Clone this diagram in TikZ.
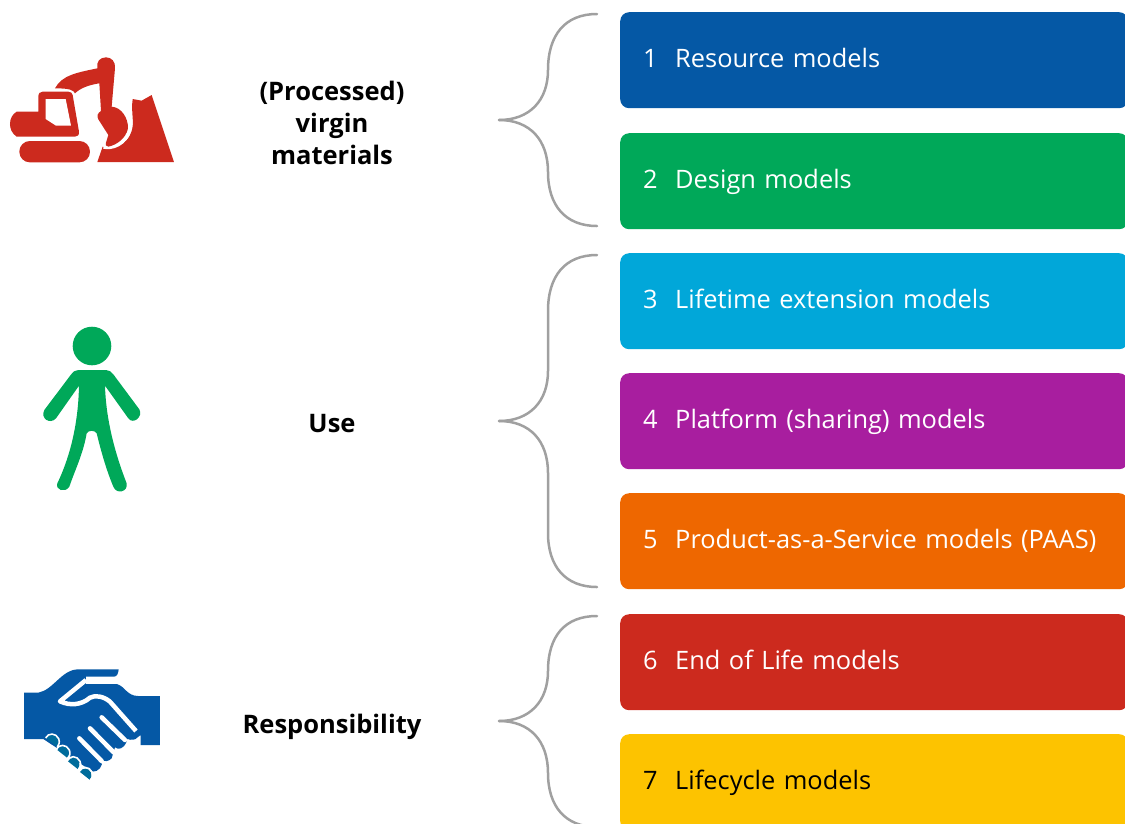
\documentclass[tikz,border=0pt]{standalone}
\usepackage{fontspec}
\setmainfont{Open Sans}
\definecolor{cblue}{HTML}{0558A5}
\definecolor{cgreen}{HTML}{00A859}
\definecolor{ccyan}{HTML}{01A7D9}
\definecolor{cpurple}{HTML}{A81E9F}
\definecolor{corange}{HTML}{EE6700}
\definecolor{cred}{HTML}{CC2A1E}
\definecolor{cyellow}{HTML}{FDC300}
\definecolor{cteal}{HTML}{006C9B}
\definecolor{cbrace}{HTML}{A0A0A0}
\newcommand{\modeltext}[2]{\makebox[32pt][l]{#1}#2}
\tikzset{
  modelbox/.style={rectangle,rounded corners=9pt,minimum width=508pt,minimum height=96pt,anchor=north west,text=white,inner xsep=23pt,inner ysep=0pt,text width=462pt,text height=20pt,text depth=6pt,align=left,font=\fontsize{25.4}{30}\selectfont},
  grouplabel/.style={align=center,font=\fontsize{25.5}{32}\selectfont\bfseries},
  bracket/.style={draw=cbrace,line width=2.5pt,line cap=round}
}
\begin{document}
\begin{tikzpicture}[x=1pt,y=-1pt]
\useasboundingbox (0,0) rectangle (1125,823);
\clip (0,0) rectangle (1125,823);
\node[modelbox,fill=cblue] (m1) at (620,12) {\modeltext{1}{Resource models}};
\node[modelbox,fill=cgreen] (m2) at (620,133) {\modeltext{2}{Design models}};
\node[modelbox,fill=ccyan] (m3) at (620,253) {\modeltext{3}{Lifetime extension models}};
\node[modelbox,fill=cpurple] (m4) at (620,373) {\modeltext{4}{Platform (sharing) models}};
\node[modelbox,fill=corange] (m5) at (620,493) {\modeltext{5}{Product-as-a-Service models (PAAS)}};
\node[modelbox,fill=cred] (m6) at (620,614) {\modeltext{6}{End of Life models}};
\node[modelbox,fill=cyellow,text=black] (m7) at (620,734) {\modeltext{7}{Lifecycle models}};
\node[grouplabel] (g1) at (332,123) {(Processed)\\virgin\\materials};
\node[grouplabel] (g2) at (332,424) {Use};
\node[grouplabel] (g3) at (332,727) {Responsibility};
% braces
\coordinate (b1t) at (499,120); \coordinate (b1a) at (597,14); \coordinate (b1b) at (597,226);
\coordinate (b2t) at (499,421); \coordinate (b2a) at (597,255); \coordinate (b2b) at (597,587);
\coordinate (b3t) at (499,721); \coordinate (b3a) at (597,616); \coordinate (b3b) at (597,827);
\draw[bracket] (b1t) .. controls (530,120) and (548,100) .. (548,70) .. controls (548,35) and (565,14) .. (b1a);
\draw[bracket] (b1t) .. controls (530,120) and (548,140) .. (548,172) .. controls (548,205) and (565,226) .. (b1b);
\draw[bracket] (b2t) .. controls (530,421) and (548,401) .. (548,371) .. controls (548,350) and (548,330) .. (548,311) .. controls (548,276) and (565,255) .. (b2a);
\draw[bracket] (b2t) .. controls (530,421) and (548,441) .. (548,473) .. controls (548,495) and (548,515) .. (548,533) .. controls (548,566) and (565,587) .. (b2b);
\draw[bracket] (b3t) .. controls (530,721) and (548,701) .. (548,671) .. controls (548,636) and (565,616) .. (b3a);
\draw[bracket] (b3t) .. controls (530,721) and (548,741) .. (548,773) .. controls (548,806) and (565,827) .. (b3b);
% excavator
\begin{scope}[shift={(0,40)},x=0.33333pt,y=-0.33333pt]
\fill[cred] (50,215) -- (115,215) -- (115,170) .. controls (115,160) and (120,155) .. (128,155) -- (205,155) .. controls (213,155) and (217,160) .. (218,165) -- (237,275) .. controls (238,285) and (233,290) .. (225,290) -- (50,290) .. controls (35,280) and (30,265) .. (30,252) .. controls (30,235) and (38,222) .. (50,215) -- cycle;
\fill[white] (137,177) -- (197,177) -- (213,257) -- (168,257) -- (137,237) -- cycle;
\fill[cred,rounded corners=10.5pt] (58,303) rectangle (270,367);
\fill[cred] (292,366) -- (308,320) .. controls (330,332) and (385,320) .. (397,265) .. controls (402,240) and (393,215) .. (398,177) -- (425,182) -- (455,165) -- (522,366) -- cycle;
\draw[white,line width=2pt] (310,323) .. controls (335,330) and (382,315) .. (392,265);
\fill[cred] (165,145) .. controls (185,105) and (235,97) .. (292,85) .. controls (288,65) and (300,52) .. (318,52) .. controls (335,52) and (347,65) .. (345,85) -- (335,200) .. controls (365,202) and (385,235) .. (384,265) .. controls (378,295) and (350,315) .. (325,320) .. controls (317,320) and (316,314) .. (318,308) -- (325,285) -- (295,238) .. controls (290,228) and (292,220) .. (303,213) -- (298,130) .. controls (265,135) and (240,145) .. (225,160) .. controls (220,150) and (210,145) .. (165,145) -- cycle;
\end{scope}
% person
\begin{scope}[shift={(30,320)},x=0.33333pt,y=-0.33333pt]
\fill[cgreen] (186,78) circle[radius=19.3pt];
\fill[cgreen] (145,150) -- (228,150) .. controls (238,150) and (243,155) .. (250,163) -- (328,268) .. controls (340,290) and (310,315) .. (295,295) -- (225,197) .. controls (228,300) and (255,400) .. (290,490) .. controls (295,515) and (260,525) .. (250,500) .. controls (225,440) and (210,380) .. (200,340) .. controls (195,330) and (175,330) .. (170,340) .. controls (160,400) and (135,450) .. (118,500) .. controls (105,520) and (75,510) .. (82,490) .. controls (125,400) and (145,300) .. (147,197) -- (78,295) .. controls (60,315) and (30,295) .. (43,270) -- (122,165) .. controls (130,155) and (135,150) .. (145,150) -- cycle;
\end{scope}
% handshake
\begin{scope}[shift={(10,660)},x=0.33333pt,y=-0.33333pt]
\fill[cblue] (42,98) -- (85,98) .. controls (130,90) and (155,28) .. (205,28) -- (326,28) .. controls (325,38) and (322,50) .. (312,50) -- (228,50) -- (228,72) -- (320,72) .. controls (345,78) and (350,108) .. (385,108) -- (450,108) -- (450,255) -- (392,255) -- (392,225) -- (375,238) .. controls (362,240) and (355,240) .. (352,236) -- (350,245) .. controls (340,268) and (325,270) .. (315,262) -- (305,295) .. controls (295,305) and (285,305) .. (275,300) .. controls (280,320) and (265,335) .. (248,335) -- (100,237) -- (42,237) -- cycle;
\draw[white,line width=4.5pt,line join=round] (228,60) -- (150,124) .. controls (180,138) and (215,135) .. (240,113) .. controls (255,105) and (280,108) .. (300,125) -- (378,213);
\draw[white,line width=4.5pt,line cap=round] (275,172) -- (345,240) (240,205) -- (312,278) (208,235) -- (275,303);
\foreach \bx/\by in {128/240,160/274,192/308,228/340}{
  \fill[cteal] (\bx-18,\by-4) .. controls (\bx-12,\by-18) and (\bx+8,\by-18) .. (\bx+15,\by-3) .. controls (\bx+19,\by+6) and (\bx+16,\by+14) .. (\bx+11,\by+19) -- cycle;
  \draw[white,line width=1.6pt] (\bx-21,\by-6) .. controls (\bx-14,\by-22) and (\bx+10,\by-22) .. (\bx+18,\by-4) .. controls (\bx+22,\by+6) and (\bx+19,\by+15) .. (\bx+14,\by+21);
}
\end{scope}
\end{tikzpicture}
\end{document}
